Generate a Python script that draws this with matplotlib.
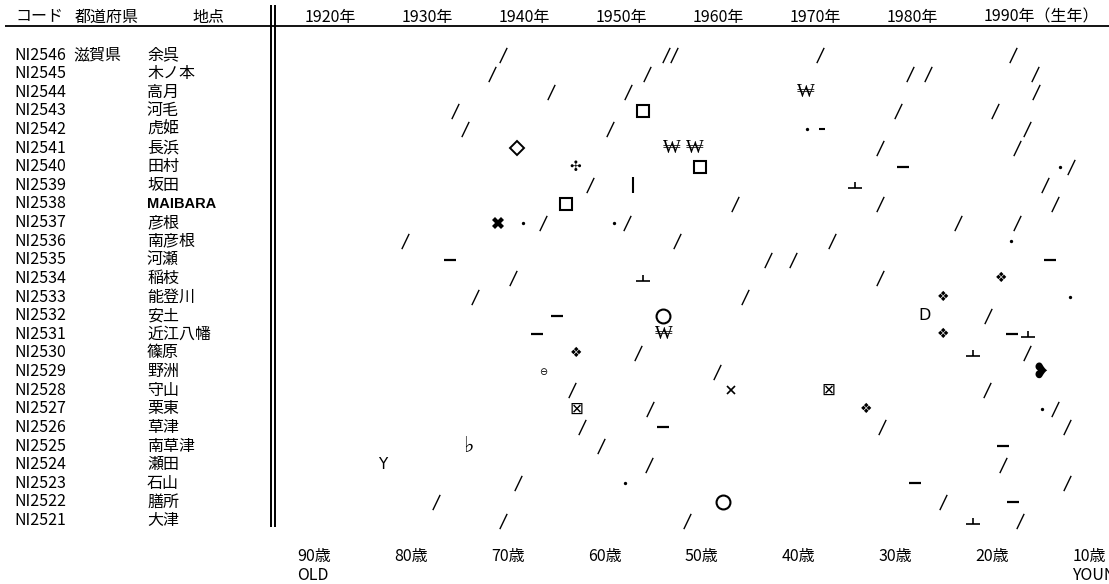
import matplotlib
matplotlib.use('Agg')
import matplotlib.pyplot as plt
import matplotlib.transforms as mtrans
from matplotlib.path import Path

plt.rcParams['font.family'] = ['Noto Sans CJK JP', 'DejaVu Sans']

# ---------------- data ----------------
codes = ['NI2546', 'NI2545', 'NI2544', 'NI2543', 'NI2542', 'NI2541', 'NI2540',
         'NI2539', 'NI2538', 'NI2537', 'NI2536', 'NI2535', 'NI2534', 'NI2533',
         'NI2532', 'NI2531', 'NI2530', 'NI2529', 'NI2528', 'NI2527', 'NI2526',
         'NI2525', 'NI2524', 'NI2523', 'NI2522', 'NI2521']
prefs = ['滋賀県'] + [''] * 25
places = ['余呉', '木ノ本', '高月', '河毛', '虎姫', '長浜', '田村', '坂田', 'MAIBARA',
          '彦根', '南彦根', '河瀬', '稲枝', '能登川', '安土', '近江八幡', '篠原', '野洲',
          '守山', '栗東', '草津', '南草津', '瀬田', '石山', '膳所', '大津']
header_labels = ['コード', '都道府県', '地点']
decade_years = [1920, 1930, 1940, 1950, 1960, 1970, 1980, 1990]
decade_labels = ['1920年', '1930年', '1940年', '1950年', '1960年', '1970年',
                 '1980年', '1990年（生年）']
survey_year = 2010
ages = [90, 80, 70, 60, 50, 40, 30, 20, 10]
age_labels = ['90歳', '80歳', '70歳', '60歳', '50歳', '40歳', '30歳', '20歳', '10歳']
age_sub = {90: 'OLD', 10: 'YOUNG'}

# symbols per speaker: row index, birth year, symbol
mark_row, mark_year, mark_sym = [], [], []
def add(row, items):
    for y, s in items:
        mark_row.append(row); mark_year.append(y); mark_sym.append(s)

add(0,  [(1940.9, '/'), (1957.8, '/'), (1958.6, '/'), (1973.7, '/'), (1993.6, '/')])
add(1,  [(1939.8, '/'), (1955.8, '/'), (1983.0, '/'), (1984.8, '/'), (1995.9, '/')])
add(2,  [(1945.9, '/'), (1953.8, '/'), (1972.2, 'W'), (1996.0, '/')])
add(3,  [(1936.0, '/'), (1955.4, 'sq'), (1981.7, '/'), (1991.7, '/')])
add(4,  [(1937.0, '/'), (1952.0, '/'), (1972.3, 'dot'), (1973.9, 'sdash'), (1995.0, '/')])
add(5,  [(1942.4, 'dia'), (1958.4, 'W'), (1960.8, 'W'), (1979.9, '/'), (1994.0, '/')])
add(6,  [(1948.4, 'cross4'), (1961.3, 'sq'), (1982.2, 'dash'), (1998.4, 'dot'), (1999.6, '/')])
add(7,  [(1949.9, '/'), (1954.4, 'bar'), (1977.3, 'tack'), (1996.9, '/')])
add(8,  [(1947.5, 'sq'), (1964.9, '/'), (1979.9, '/'), (1997.9, '/')])
add(9,  [(1940.4, 'X'), (1943.0, 'dot'), (1945.1, '/'), (1952.4, 'dot'), (1953.7, '/'),
         (1987.9, '/'), (1994.0, '/')])
add(10, [(1930.8, '/'), (1958.9, '/'), (1974.9, '/'), (1993.4, 'dot')])
add(11, [(1935.5, 'dash'), (1968.3, '/'), (1970.9, '/'), (1997.4, 'dash')])
add(12, [(1942.0, '/'), (1955.4, 'tack'), (1979.9, '/'), (1992.4, 'clover')])
add(13, [(1938.1, '/'), (1965.9, '/'), (1986.4, 'clover'), (1999.5, 'dot')])
add(14, [(1946.5, 'dash'), (1957.5, 'circ'), (1984.5, 'D'), (1991.0, '/')])
add(15, [(1944.5, 'dash'), (1957.5, 'W'), (1986.4, 'clover'), (1993.5, 'dash'), (1995.1, 'tack')])
add(16, [(1948.5, 'clover'), (1954.9, '/'), (1989.5, 'tack'), (1995.0, '/')])
add(17, [(1945.1, 'ominus'), (1963.0, '/'), (1996.4, 'heart')])
add(18, [(1948.1, '/'), (1964.5, 'x'), (1974.5, 'boxx'), (1990.9, '/')])
add(19, [(1948.5, 'boxx'), (1956.1, '/'), (1978.4, 'clover'), (1996.6, 'dot'), (1997.9, '/')])
add(20, [(1949.1, '/'), (1957.5, 'dash'), (1980.1, '/'), (1999.2, '/')])
add(21, [(1937.4, 'flat'), (1951.1, '/'), (1992.5, 'dash')])
add(22, [(1928.5, 'Y'), (1956.0, '/'), (1992.5, '/')])
add(23, [(1942.5, '/'), (1953.5, 'dot'), (1983.5, 'dash'), (1999.2, '/')])
add(24, [(1934.0, '/'), (1963.7, 'circ'), (1986.4, '/'), (1993.6, 'dash')])
add(25, [(1940.9, '/'), (1959.9, '/'), (1989.5, 'tack'), (1994.3, '/')])

# ---------------- layout ----------------
W, H = 1109, 584
PX_PER_YEAR = 9.69
X1920 = 300.0
ROW0 = 55.0
ROWH = 18.62

fig = plt.figure(figsize=(W / 100, H / 100), dpi=100)
ax = fig.add_axes([0, 0, 1, 1])
ax.set_axis_off()
ax.set_xlim(1920 - X1920 / PX_PER_YEAR, 1920 + (W - X1920) / PX_PER_YEAR)
ax.set_ylim((H - ROW0) / ROWH, -ROW0 / ROWH)

def prow(py):
    return (py - ROW0) / ROWH

bl = mtrans.blended_transform_factory(ax.transAxes, ax.transData)
FS = 11.5

# header
hy = prow(17)
for xpx, lab in zip([15, 75, 192], header_labels):
    ax.text(xpx / W, hy, lab, transform=bl, ha='left', va='center', fontsize=FS)
for yr, lab in zip(decade_years, decade_labels):
    ax.text(yr + 0.5, hy, lab, ha='left', va='center', fontsize=FS)
ax.plot([5 / W, 1.0], [prow(26), prow(26)], transform=bl, color='k', lw=1.3,
        solid_capstyle='butt')

# double vertical separator
for xpx in [271.0, 274.6]:
    ax.plot([xpx / W, xpx / W], [prow(5), prow(527)], transform=bl, color='k',
            lw=1.4, solid_capstyle='butt')

# left columns
for i, (c, p, pl) in enumerate(zip(codes, prefs, places)):
    ax.text(14 / W, i, c, transform=bl, ha='left', va='center', fontsize=FS)
    if p:
        ax.text(73 / W, i, p, transform=bl, ha='left', va='center', fontsize=FS)
    if pl.isascii():
        ax.text(147 / W, i, pl, transform=bl, ha='left', va='center', fontsize=10.5,
                fontweight='bold', family='Liberation Sans')
    else:
        ax.text(147 / W, i, pl, transform=bl, ha='left', va='center', fontsize=FS)

# age axis (the last label runs off the right edge, as in the original)
for a, lab in zip(ages, age_labels):
    x = survey_year - a - 0.3
    ax.text(x, prow(557), lab, ha='left', va='center', fontsize=FS)
    if a in age_sub:
        ax.text(x, prow(575), age_sub[a], ha='left', va='center', fontsize=FS)

# ---------------- symbols ----------------
slash_path = Path([(-0.24, -0.5), (0.24, 0.5)], [Path.MOVETO, Path.LINETO])
tack_path = Path([(-0.5, -0.2), (0.5, -0.2), (0.0, -0.2), (0.0, 0.22)],
                 [Path.MOVETO, Path.LINETO, Path.MOVETO, Path.LINETO])

marker_styles = {
    '/':     dict(marker=slash_path, ms=11, mew=1.0, mfc='none'),
    'dash':  dict(marker='_', ms=9, mew=1.6),
    'sdash': dict(marker='_', ms=4, mew=1.5),
    'bar':   dict(marker='|', ms=11, mew=1.5),
    'tack':  dict(marker=tack_path, ms=9.5, mew=1.2, mfc='none'),
    'sq':    dict(marker='s', ms=9, mew=1.5, mfc='none'),
    'dia':   dict(marker='D', ms=7.5, mew=1.4, mfc='none'),
    'circ':  dict(marker='o', ms=10, mew=1.5, mfc='none'),
    'dot':   dict(marker='o', ms=2.4, mew=0),
    'x':     dict(marker='x', ms=5.5, mew=1.2),
    'X':     dict(marker='X', ms=9, mew=0),
}
won_fonts = ['Liberation Serif', 'Noto Sans', 'Noto Sans CJK JP', 'Roboto',
             'Open Sans', 'Lato', 'Inter', 'DejaVu Sans']
text_styles = {
    'W':      dict(s='₩', fontsize=13.5, family=won_fonts),
    'clover': dict(s='❖', fontsize=10, family='DejaVu Sans'),
    'cross4': dict(s='✣', fontsize=10, family='DejaVu Sans'),
    'D':      dict(s='D', fontsize=11.5, family='DejaVu Sans'),
    'Y':      dict(s='Y', fontsize=11, family='DejaVu Sans'),
    'flat':   dict(s='♭', fontsize=16, family='DejaVu Serif'),
    'ominus': dict(s='⊖', fontsize=7, family='DejaVu Sans'),
    'boxx':   dict(s='⊠', fontsize=12, family='DejaVu Sans'),
    'heart':  dict(s='❥', fontsize=15, family='DejaVu Sans'),
}

for key, st in marker_styles.items():
    xs = [y for y, s in zip(mark_year, mark_sym) if s == key]
    ys = [r for r, s in zip(mark_row, mark_sym) if s == key]
    if xs:
        ax.plot(xs, ys, ls='none', color='k', mec='k', **st)

for yv, r, s in zip(mark_year, mark_row, mark_sym):
    if s in text_styles:
        st = dict(text_styles[s])
        ax.text(yv, r, st.pop('s'), ha='center', va='center', color='k', **st)

fig.savefig('out.png', dpi=100)
